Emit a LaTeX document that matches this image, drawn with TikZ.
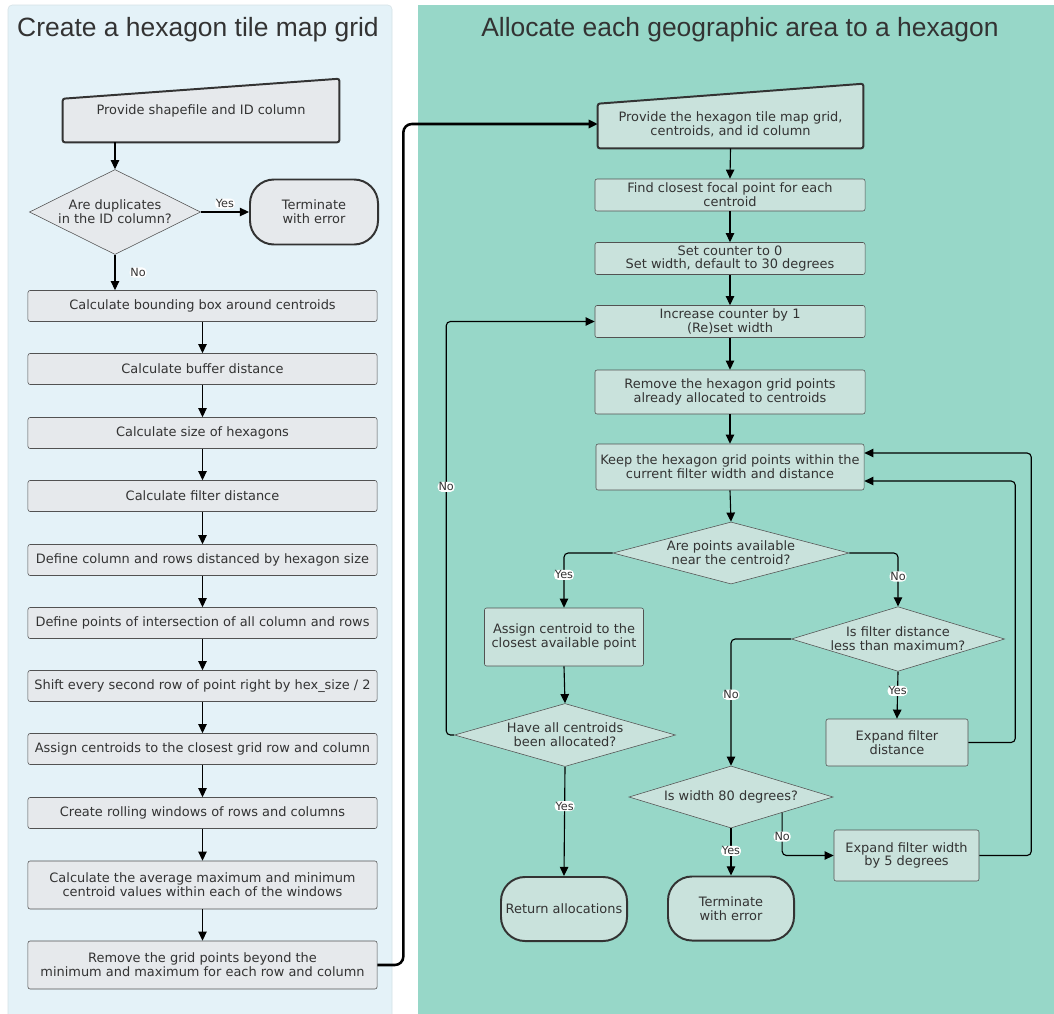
\documentclass[tikz,border=0pt]{standalone}
\usepackage{fontspec}
\setmainfont{DejaVu Sans}
\newfontfamily\titlefont{Liberation Sans}
\usetikzlibrary{arrows.meta,shapes.geometric,backgrounds}
\definecolor{leftbg}{HTML}{E4F2F8}
\definecolor{rightbg}{HTML}{97D7C8}
\definecolor{leftfill}{HTML}{E6E9EC}
\definecolor{rightfill}{HTML}{C9E2DC}
\definecolor{inkgrey}{HTML}{333333}
\tikzset{
  every node/.style={text=inkgrey, font=\fontsize{9.2}{9.8}\selectfont},
  procbox/.style={draw=inkgrey!85, rounded corners=1.5pt, align=center, inner sep=1pt},
  leftbox/.style={procbox, fill=leftfill, minimum width=8.725cm},
  rightbox/.style={procbox, fill=rightfill},
  decision/.style={diamond, draw=inkgrey!85, align=center, inner sep=0pt},
  terminal/.style={draw=inkgrey, line width=1.4pt, rounded corners=0.6cm, align=center, inner sep=1pt},
  inputtext/.style={align=center, inner sep=0pt},
  inputedge/.style={draw=inkgrey, line width=1.4pt, rounded corners=1.5pt},
  arr/.style={-{Triangle[length=6.5pt,width=6pt]}, line width=0.8pt, rounded corners=3pt},
  lab/.style={fill=white, inner sep=0.6pt, font=\fontsize{8}{8.5}\selectfont},
  paneltitle/.style={font=\titlefont\fontsize{18.8}{20}\selectfont}
}
\begin{document}
\begin{tikzpicture}[x=0.025cm, y=-0.025cm]
  \useasboundingbox (0,0) rectangle (1054,1014);
  \begin{scope}[on background layer]
    \fill[white] (0,0) rectangle (1054,1014);
    \draw[leftbg!85!gray, fill=leftbg, rounded corners=3pt] (8,5) rectangle (392,1020);
    \fill[rightbg] (418,5) rectangle (1060,1020);
  \end{scope}
  \node[paneltitle] (title1) at (198,30) {Create a hexagon tile map grid};
  \node[paneltitle] (title2) at (740,30) {Allocate each geographic area to a hexagon};

  \node[inputtext, minimum width=6.9cm, minimum height=1.55cm] (in1) at (201,111) {Provide shapefile and ID column};
  \begin{scope}[on background layer]
    \draw[inputedge, fill=leftfill] (in1.south west) -- (in1.south east) -- ([yshift=0.025cm]in1.north east) -- ([yshift=-0.475cm]in1.north west) -- cycle;
  \end{scope}
  \node[decision, fill=leftfill, aspect=2, minimum width=4.275cm, minimum height=2.125cm] (d0) at (115,212) {Are duplicates\\in the ID column?};
  \node[terminal, fill=leftfill, minimum width=3.2cm, minimum height=1.625cm] (t1) at (314,212) {Terminate\\with error};
  \foreach \y/\h/\txt [count=\i] in {
    306/0.775/Calculate bounding box around centroids,
    369/0.775/Calculate buffer distance,
    433/0.775/Calculate size of hexagons,
    496/0.775/Calculate filter distance,
    560/0.775/Define column and rows distanced by hexagon size,
    623/0.775/Define points of intersection of all column and rows,
    686/0.775/{Shift every second row of point right by hex\_size / 2},
    749/0.775/Assign centroids to the closest grid row and column,
    813/0.775/Create rolling windows of rows and columns,
    885/1.2/{Calculate the average maximum and minimum\\centroid values within each of the windows},
    965/1.2/{Remove the grid points beyond the\\minimum and maximum for each row and column}}
    \node[leftbox, minimum height=\h cm] (l\i) at (202.5,\y) {\txt};

  \draw[arr] (in1.south -| d0.north) -- (d0.north);
  \draw[arr] (d0.east) -- node[lab, above=2pt] {Yes} (t1.west);
  \draw[arr] (d0.south) -- node[lab, right=10pt] {No} (d0.south |- l1.north);
  \foreach \i [evaluate=\i as \j using int(\i+1)] in {1,...,10}
    \draw[arr] (l\i.south) -- (l\j.north);

  \node[inputtext, minimum width=6.625cm, minimum height=1.2cm] (in2) at (730.5,124) {Provide the hexagon tile map grid,\\centroids, and id column};
  \begin{scope}[on background layer]
    \draw[inputedge, fill=rightfill] (in2.south west) -- (in2.south east) -- ([yshift=0.4cm]in2.north east) -- ([yshift=-0.1cm]in2.north west) -- cycle;
  \end{scope}
  \draw[arr, line width=1.8pt, rounded corners=6pt] (l11.east) -- ++(26,0) |- (in2.west);

  \node[rightbox, minimum width=6.75cm, minimum height=0.8cm] (r1) at (730,195) {Find closest focal point for each\\centroid};
  \node[rightbox, minimum width=6.75cm, minimum height=0.8cm] (r2) at (730,258.5) {Set counter to 0\\Set width, default to 30 degrees};
  \node[rightbox, minimum width=6.75cm, minimum height=0.8cm] (r3) at (730,321.5) {Increase counter by 1\\(Re)set width};
  \node[rightbox, minimum width=6.75cm, minimum height=1.1cm] (r4) at (730,392) {Remove the hexagon grid points\\already allocated to centroids};
  \node[rightbox, minimum width=6.7cm, minimum height=1.15cm] (r5) at (730,467) {Keep the hexagon grid points within the\\current filter width and distance};
  \node[decision, fill=rightfill, aspect=3.8, minimum width=5.9cm, minimum height=1.55cm] (d1) at (731,553) {Are points available\\near the centroid?};
  \node[rightbox, minimum width=3.975cm, minimum height=1.45cm] (r6) at (564,637) {Assign centroid to the\\closest available point};
  \node[decision, fill=rightfill, aspect=3.3, minimum width=5.125cm, minimum height=1.55cm] (d2) at (898,639) {Is filter distance\\less than maximum?};
  \node[decision, fill=rightfill, aspect=3.5, minimum width=5.525cm, minimum height=1.575cm] (d3) at (565,735) {Have all centroids\\been allocated?};
  \node[rightbox, minimum width=3.55cm, minimum height=1.175cm] (r7) at (897,742.5) {Expand filter\\distance};
  \node[decision, fill=rightfill, aspect=3.3, minimum width=5.1cm, minimum height=1.55cm] (d4) at (731,797) {Is width 80 degrees?};
  \node[rightbox, minimum width=3.625cm, minimum height=1.275cm] (r8) at (906.5,855.5) {Expand filter width\\by 5 degrees};
  \node[terminal, fill=rightfill, minimum width=3.15cm, minimum height=1.6cm] (t2) at (564,909) {Return allocations};
  \node[terminal, fill=rightfill, minimum width=3.15cm, minimum height=1.6cm] (t3) at (731,908.5) {Terminate\\with error};

  \draw[arr] (in2.south) -- (r1.north);
  \draw[arr] (r1.south) -- (r2.north);
  \draw[arr] (r2.south) -- (r3.north);
  \draw[arr] (r3.south) -- (r4.north);
  \draw[arr] (r4.south) -- (r5.north);
  \draw[arr] (r5.south) -- (d1.north);
  \draw[arr] (d1.west) -| node[lab, pos=0.7] {Yes} (r6.north);
  \draw[arr] (d1.east) -| node[lab, pos=0.72] {No} (d2.north);
  \draw[arr] (r6.south) -- (d3.north);
  \draw[arr] (d3.west) -- ++(-8,0) |- node[lab, pos=0.3] {No} (r3.west);
  \draw[arr] (d3.south) -- node[lab, pos=0.36] {Yes} (t2.north);
  \draw[arr] (d2.south) -- node[lab, pos=0.41] {Yes} (r7.north);
  \draw[arr] (d2.west) -| node[lab, pos=0.72] {No} (d4.north);
  \draw[arr] (r7.east) -- ++(47,0) |- ([yshift=-0.35cm]r5.east);
  \draw[arr] (d4.south) -- node[lab, pos=0.48] {Yes} (t3.north);
  \draw[arr] (d4.south east) |- node[lab, pos=0.28] {No} (r8.west);
  \draw[arr] (r8.east) -- ++(52,0) |- ([yshift=0.35cm]r5.east);
\end{tikzpicture}
\end{document}
